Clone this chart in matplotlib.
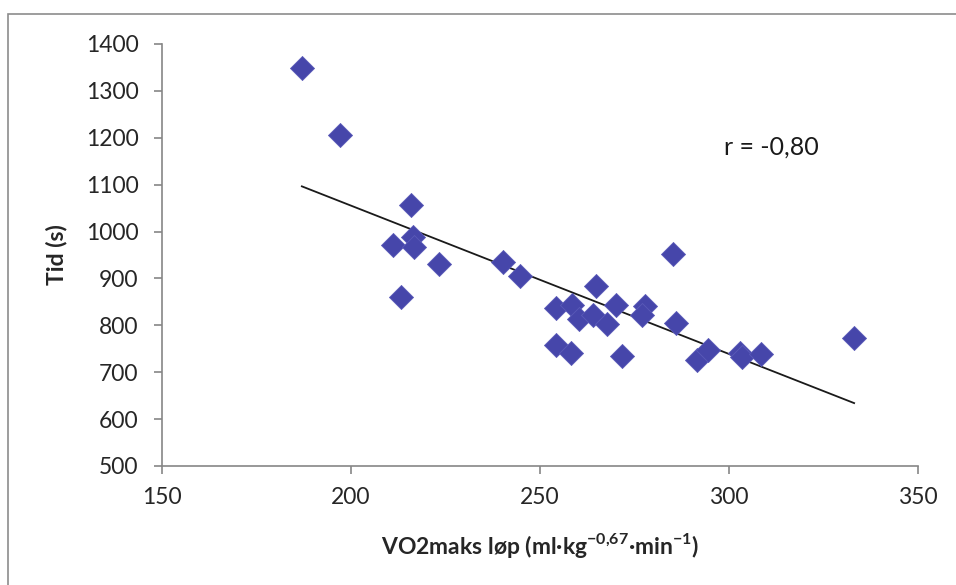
import numpy as np
import matplotlib
matplotlib.use("Agg")
from matplotlib import pyplot as plt
from matplotlib.patches import Rectangle

plt.rcParams['font.family'] = ['Lato', 'DejaVu Sans']
plt.rcParams['mathtext.fontset'] = 'custom'
plt.rcParams['mathtext.rm'] = 'Lato'
plt.rcParams['mathtext.bf'] = 'Lato:bold'

# VO2maks (ml*kg^-0.67*min^-1) and time (s)
vo2 = [187.0, 197.1, 215.9, 211.1, 216.4, 216.7, 213.2, 223.3, 240.2, 244.7,
       264.7, 254.2, 258.5, 260.4, 263.9, 270.0, 267.8, 277.8, 276.9, 285.1,
       286.0, 254.2, 258.3, 271.6, 291.6, 294.5, 302.9, 303.4, 308.5, 333.1]
tid = [1349, 1206, 1057, 971, 988, 967, 860, 931, 935, 905,
       884, 836, 843, 814, 822, 843, 802, 841, 822, 952,
       804, 759, 740, 735, 726, 747, 742, 733, 739, 772]
x_ticks = [150, 200, 250, 300, 350]
y_ticks = [500, 600, 700, 800, 900, 1000, 1100, 1200, 1300, 1400]
r_label = "r = -0,80"

vo2 = np.array(vo2)
tid = np.array(tid)

fig = plt.figure(figsize=(9.56, 5.85), dpi=100)
ax = fig.add_axes([162/956, 1-466/585, (918-162)/956, (466-44)/585])

# outer chart frame (Excel style)
fig.patches.append(Rectangle((8/956, -0.05), 1.2, 1-14/585+0.05, transform=fig.transFigure,
                             fill=False, edgecolor='#8c8c8c', linewidth=1.2))

ax.scatter(vo2, tid, marker='D', s=150, color='#4646aa', edgecolors='#5a5ab8',
           linewidths=0.6, zorder=3)

k, m = np.polyfit(vo2, tid, 1)
xl = np.array([vo2.min(), vo2.max()])
ax.plot(xl, k*xl + m, color='#1a1a1a', linewidth=1.3, zorder=2)

ax.text(298.7, 1180, r_label, fontsize=18, va='center', ha='left', color='#1a1a1a')

ax.set_xlim(150, 350)
ax.set_ylim(500, 1400)
ax.set_xticks(x_ticks)
ax.set_yticks(y_ticks)
ax.tick_params(labelsize=16.5, colors='#868686', labelcolor='#262626', length=6, width=1.2)
ax.tick_params(axis='y', pad=11)
ax.tick_params(axis='x', pad=9)
for s in ['top', 'right']:
    ax.spines[s].set_visible(False)
for s in ['left', 'bottom']:
    ax.spines[s].set_color('#868686')
    ax.spines[s].set_linewidth(1.2)

ax.set_ylabel('Tid (s)', fontsize=16.5, fontweight='bold', color='#262626', labelpad=13)
ax.set_xlabel(r'VO2maks løp (ml·kg$^{\mathbf{-0{,}67}}$·min$^{\mathbf{-1}}$)',
              fontsize=16.5, fontweight='bold', color='#262626', labelpad=17)

fig.savefig('out.png', dpi=100)
